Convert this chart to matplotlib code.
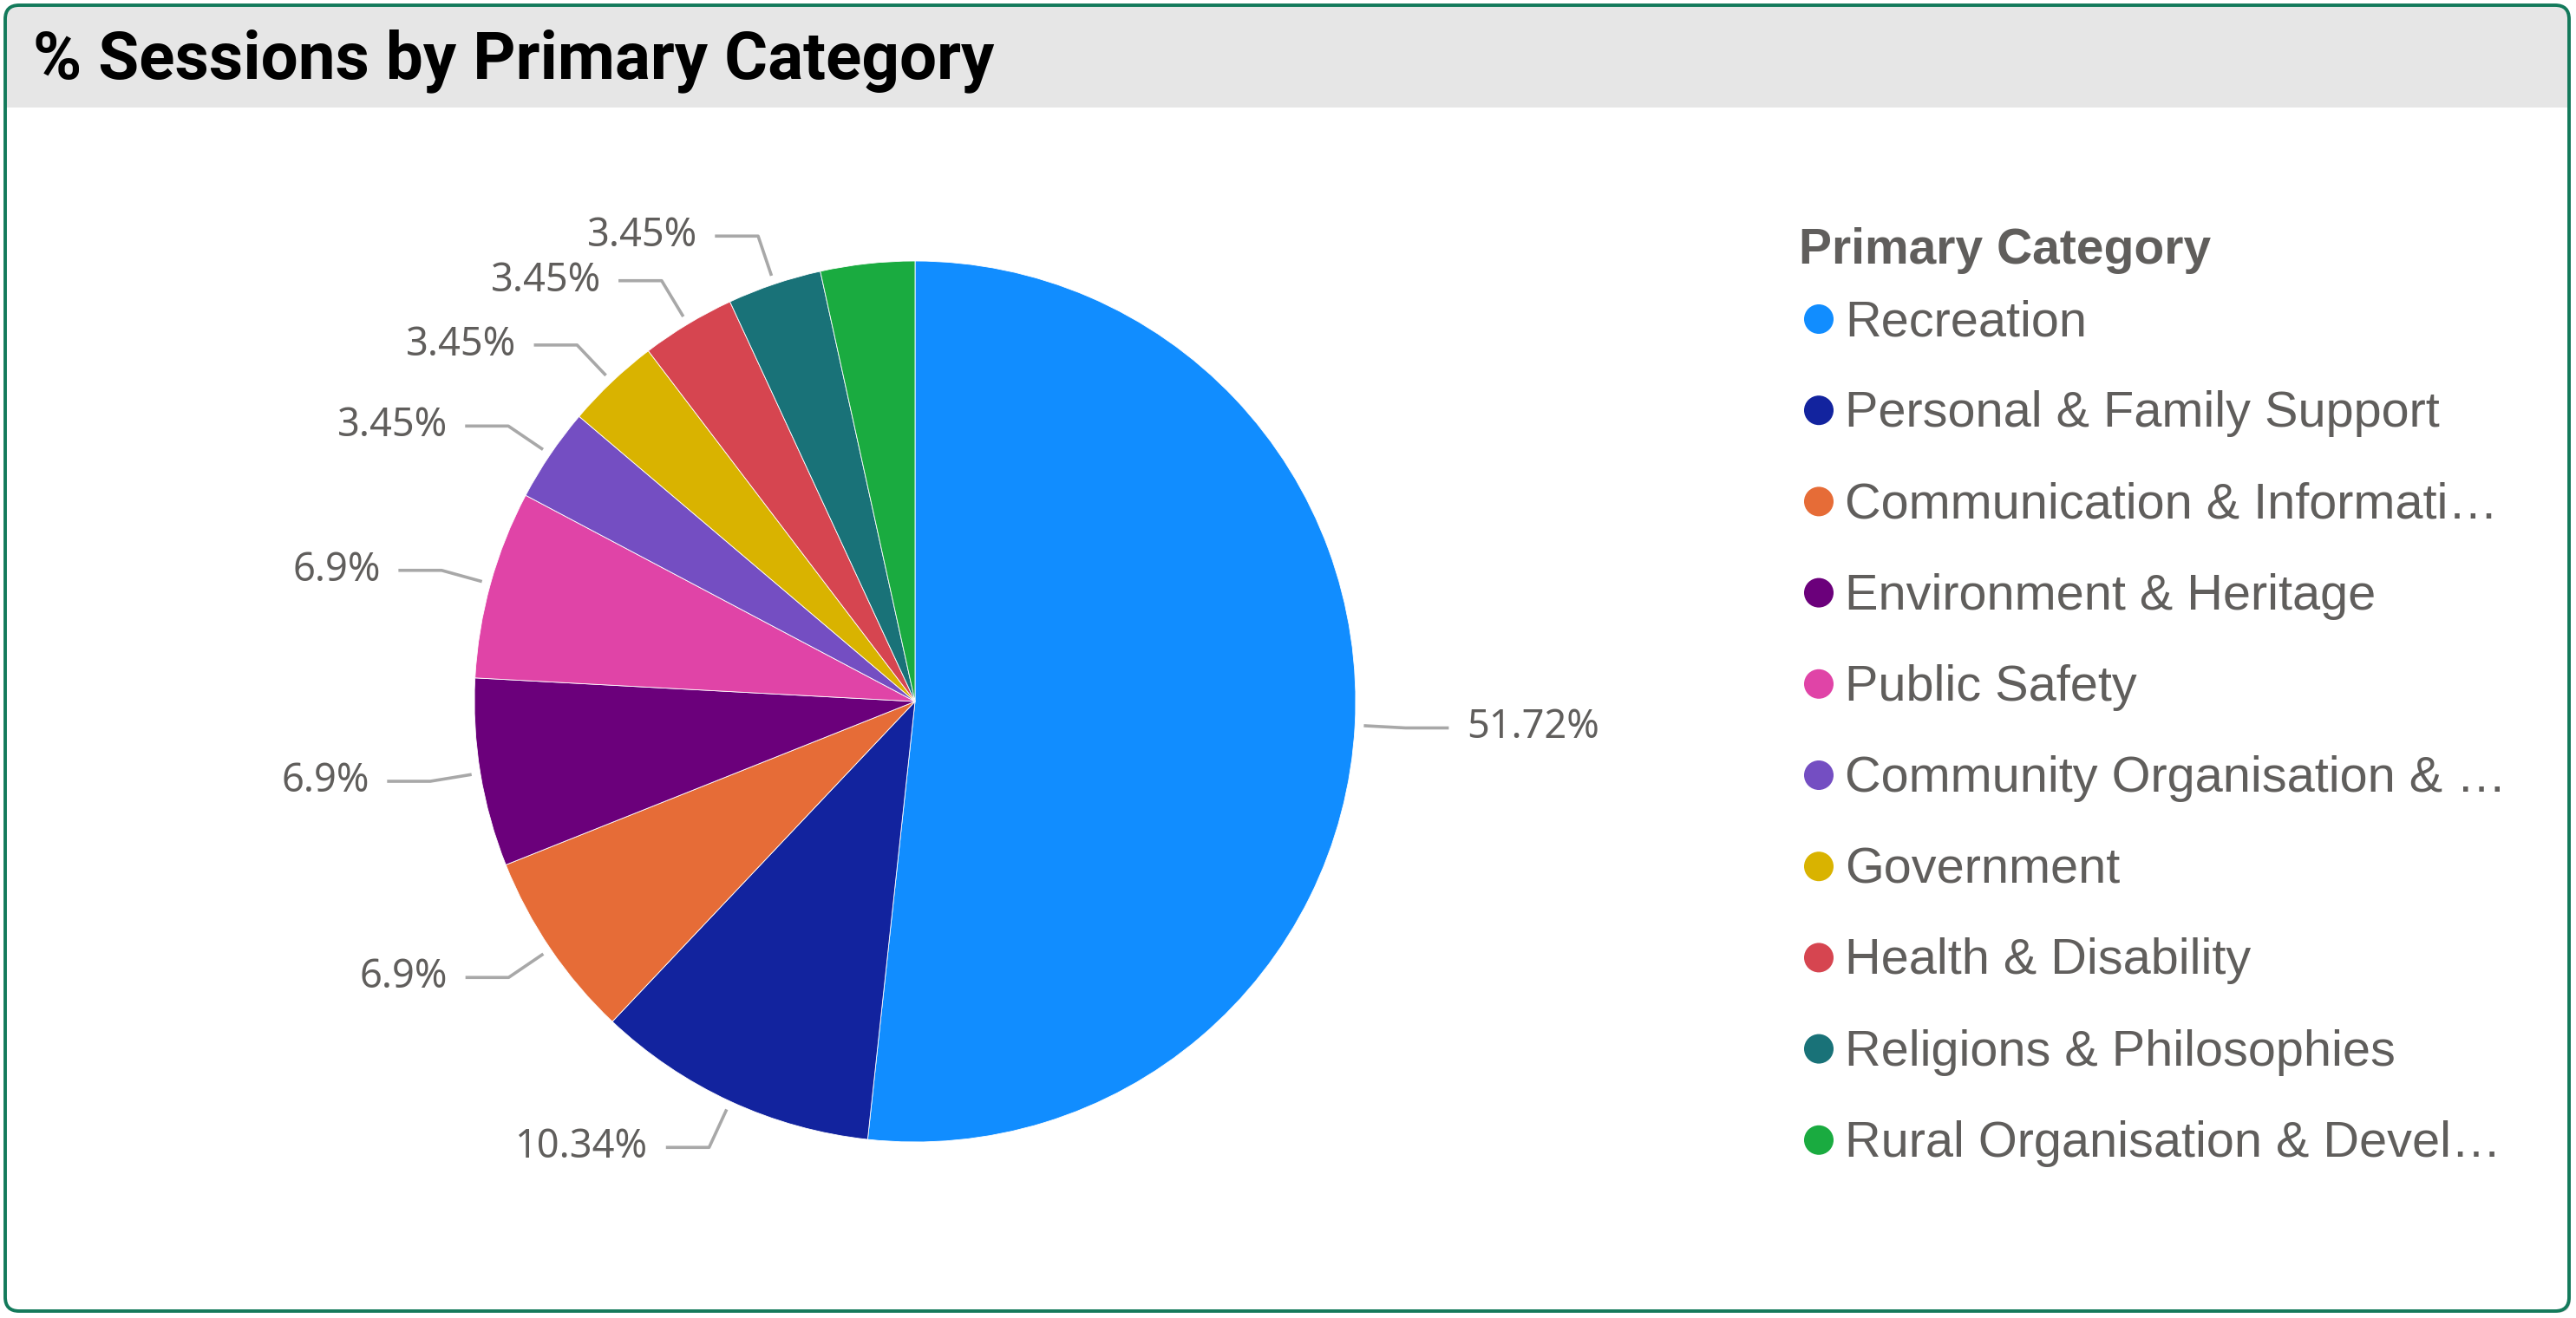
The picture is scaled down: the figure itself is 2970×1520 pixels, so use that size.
import matplotlib
matplotlib.use("Agg")
import matplotlib.pyplot as plt
import numpy as np
from matplotlib.patches import FancyBboxPatch, Rectangle, Circle

# ---------------- data ----------------
title = "% Sessions by Primary Category"
legend_title = "Primary Category"
categories = [
    "Recreation",
    "Personal & Family Support",
    "Communication & Informati…",
    "Environment & Heritage",
    "Public Safety",
    "Community Organisation & …",
    "Government",
    "Health & Disability",
    "Religions & Philosophies",
    "Rural Organisation & Devel…",
]
pct = [51.72, 10.34, 6.9, 6.9, 6.9, 3.45, 3.45, 3.45, 3.45, 3.45]
colors = ["#118DFF", "#12239E", "#E66C37", "#6B007B", "#E044A7",
          "#744EC2", "#D9B300", "#D64550", "#197278", "#1AAB40"]

# ---------------- figure ----------------
W, H = 2970, 1520
fig = plt.figure(figsize=(W / 100, H / 100), dpi=100)
fig.patch.set_facecolor("white")

bg = fig.add_axes([0, 0, 1, 1])
bg.set_xlim(0, W)
bg.set_ylim(H, 0)
bg.axis("off")

shadow = FancyBboxPatch((9, 9), W - 15, H - 15,
                        boxstyle="round,pad=0,rounding_size=16",
                        fc="#cccccc", ec="none", zorder=0)
bg.add_patch(shadow)
panel = FancyBboxPatch((6, 6), W - 14, H - 14,
                       boxstyle="round,pad=0,rounding_size=16",
                       fc="white", ec="none", zorder=1)
bg.add_patch(panel)
bar = Rectangle((0, 0), W, 124, fc="#E6E6E6", ec="none", zorder=2)
bg.add_patch(bar)
bar.set_clip_path(panel)
edge = FancyBboxPatch((6, 6), W - 14, H - 14,
                      boxstyle="round,pad=0,rounding_size=16",
                      fc="none", ec="#137A5B", lw=2.8, zorder=3)
bg.add_patch(edge)

bg.text(38, 90, title, fontsize=55, fontweight="bold", family="Roboto",
        color="black", ha="left", va="baseline", zorder=4)

# ---------------- pie ----------------
cx, cy, R, S = 1055, 809, 508, 1500
ax = fig.add_axes([(cx - S / 2) / W, (H - cy - S / 2) / H, S / W, S / H])
wedges, _ = ax.pie(pct, colors=colors, startangle=90, counterclock=False,
                   radius=1, wedgeprops=dict(lw=0.6, ec="white"))
lim = S / 2 / R
ax.set_xlim(-lim, lim)
ax.set_ylim(-lim, lim)
ax.axis("off")

line_col = "#A8A8A8"
text_col = "#605E5C"
placed = {1: [], -1: []}
min_gap = 0.085
for w, p in zip(wedges, pct):
    th = np.deg2rad((w.theta1 + w.theta2) / 2)
    c, s = np.cos(th), np.sin(th)
    side = 1 if c >= 0 else -1
    ye = 1.115 * s
    if any(abs(ye - y0) < min_gap for y0 in placed[side]):
        continue
    placed[side].append(ye)
    x0, y0 = 1.02 * c, 1.02 * s
    xe = 1.115 * c
    xh = xe + side * 0.098
    ax.plot([x0, xe, xh], [y0, ye, ye], color=line_col, lw=2.6,
            solid_capstyle="butt", clip_on=False)
    lab = f"{p:g}%"
    ax.text(xh + side * 0.04, ye, lab, fontsize=32.5, family="Noto Sans",
            color=text_col, ha="left" if side > 0 else "right",
            va="center", clip_on=False)

# ---------------- legend ----------------
lx_title, ly_title = 2074, 289
bg.text(lx_title, ly_title, legend_title, fontsize=41, fontweight="bold",
        family="Liberation Sans", color=text_col, ha="left", va="center",
        zorder=5)
y_first, dy = 368, 105.2
for i, (cat, col) in enumerate(zip(categories, colors)):
    y = y_first + i * dy
    bg.add_patch(Circle((2097, y), 17, fc=col, ec="none", zorder=5))
    bg.text(2127, y + 4, cat, fontsize=41.5, family="Liberation Sans",
            color=text_col, ha="left", va="center", zorder=5)

fig.savefig("out.png", dpi=100, facecolor=fig.get_facecolor())
